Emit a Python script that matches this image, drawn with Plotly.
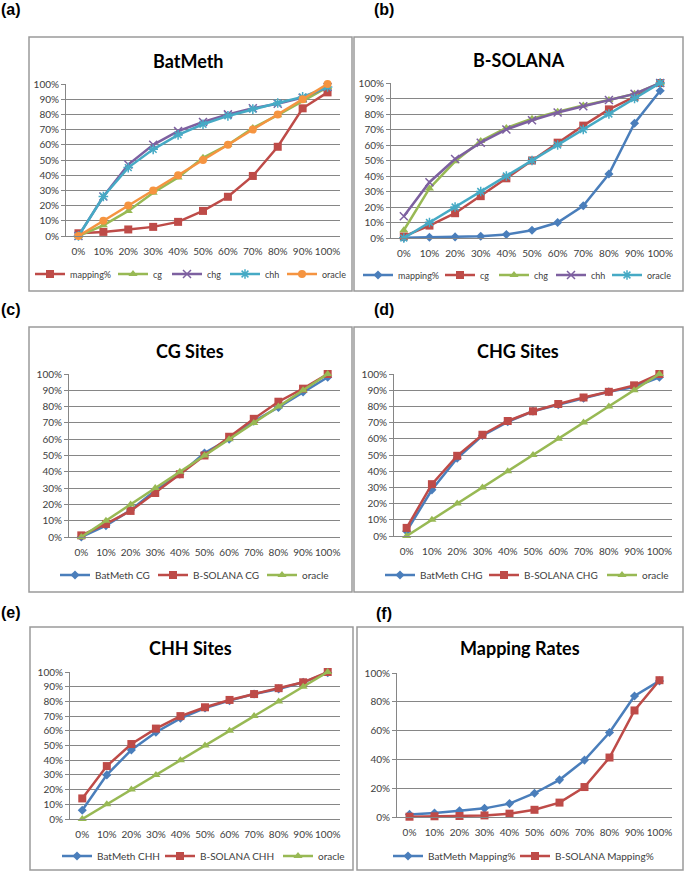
import plotly.graph_objects as go

W, H = 685, 872

cats = ["0%", "10%", "20%", "30%", "40%", "50%", "60%", "70%", "80%", "90%", "100%"]

# (a) BatMeth
bm_mapping = [1.8, 2.7, 4.3, 6.0, 9.3, 16.5, 25.8, 39.5, 58.7, 84.0, 94.5]
bm_cg = [0, 7, 16.5, 28.5, 38.5, 51.5, 60, 71, 79.5, 89, 98]
bm_chg = [3, 28.5, 48, 62, 70.5, 77, 81, 85, 89, 92, 98]
bm_chh = [6, 30, 47, 59, 68.5, 75.5, 80.5, 85, 88.5, 93, 99.5]
bm_a_chg = [0, 26, 47, 60, 69, 75, 80, 84, 87, 91, 98]
bm_a_chh = [0, 26, 45, 57, 66.5, 73.5, 79, 83.5, 87.5, 91.5, 98]
# (b) B-SOLANA
bs_mapping = [0.2, 0.5, 0.7, 1.1, 2.3, 5.0, 10.0, 20.8, 41.3, 74.0, 95.0]
bs_cg = [1, 8, 16, 27, 38.5, 50, 61.5, 72.5, 83, 91, 100]
bs_chg = [5, 32, 49.5, 62.5, 71, 77, 81.5, 85.5, 89, 93, 100]
bs_chh = [14, 36, 51, 61.5, 70, 76, 81, 85, 89, 93, 100]
oracle = [0, 10, 20, 30, 40, 50, 60, 70, 80, 90, 100]

titles = ["BatMeth", "B-SOLANA", "CG Sites", "CHG Sites", "CHH Sites", "Mapping Rates"]
labels = ["(a)", "(b)", "(c)", "(d)", "(e)", "(f)"]

BLUE, RED, GREEN, PURPLE, AQUA, ORANGE = "#4A7EBB", "#BE4B48", "#98B954", "#7D60A0", "#46AAC5", "#F59440"


def mk(kind, color):
    # marker style per kind
    if kind == "diamond":
        return dict(symbol="diamond", size=7, color=color)
    if kind == "square":
        return dict(symbol="square", size=8, color=color)
    if kind == "triangle":
        return dict(symbol="triangle-up", size=8, color=color)
    if kind == "x":
        return dict(symbol="x-thin-open", size=8, color=color, line=dict(color=color, width=1.5))
    if kind == "star":
        return dict(symbol="asterisk-open", size=8, color=color, line=dict(color=color, width=1.5))
    return dict(symbol="circle", size=8, color=color)


# panel series: (name, values, color, marker)
panels = [
    [("mapping%", bm_mapping, RED, "square"), ("cg", bm_cg, GREEN, "triangle"),
     ("chg", bm_a_chg, PURPLE, "x"), ("chh", bm_a_chh, AQUA, "star"),
     ("oracle", oracle, ORANGE, "circle")],
    [("mapping%", bs_mapping, BLUE, "diamond"), ("cg", bs_cg, RED, "square"),
     ("chg", bs_chg, GREEN, "triangle"), ("chh", bs_chh, PURPLE, "x"),
     ("oracle", oracle, AQUA, "star")],
    [("BatMeth CG", bm_cg, BLUE, "diamond"), ("B-SOLANA CG", bs_cg, RED, "square"),
     ("oracle", oracle, GREEN, "triangle")],
    [("BatMeth CHG", bm_chg, BLUE, "diamond"), ("B-SOLANA CHG", bs_chg, RED, "square"),
     ("oracle", oracle, GREEN, "triangle")],
    [("BatMeth CHH", bm_chh, BLUE, "diamond"), ("B-SOLANA CHH", bs_chh, RED, "square"),
     ("oracle", oracle, GREEN, "triangle")],
    [("BatMeth Mapping%", bm_mapping, BLUE, "diamond"), ("B-SOLANA Mapping%", bs_mapping, RED, "square")],
]

# geometry in pixels
plot_px = [(66, 340, 84, 236), (391, 673, 83, 238), (69, 340, 374, 537),
           (394, 672, 374, 536), (70, 340, 672, 819), (397, 672, 673, 817)]
box_px = [(29, 37, 352, 291), (354, 37, 683, 291), (29, 327, 352, 592),
          (354, 327, 683, 592), (30, 627, 353, 870), (357, 627, 683, 870)]
title_px = [(188, 61), (519, 60), (190, 351), (518, 351), (190, 648), (520, 648)]
label_px = [(11, 10), (384, 10), (11, 310), (384, 310), (11, 612), (384, 613)]
# one legend per entry: left x of each entry, and the row's centre y
legend_x = [[30, 113, 167, 225, 282], [358, 440, 494, 551, 607],
            [55, 153, 262], [380, 484, 602], [57, 160, 278], [388, 515]]
legend_y = [274, 275, 575, 575, 856, 856]
legend_size = [9, 9, 10, 10, 10, 10]

FONT = "Lato, Carlito, Calibri, sans-serif"

fig = go.Figure()
layout = dict(width=W, height=H, margin=dict(l=0, r=0, t=0, b=0, autoexpand=False),
              paper_bgcolor="white", plot_bgcolor="white", showlegend=True,
              font=dict(family=FONT, color="#404040"))
shapes, annotations = [], []

k = 0
for i, series in enumerate(panels):
    n = "" if i == 0 else str(i + 1)
    for j, (name, vals, color, kind) in enumerate(series):
        k += 1
        lg = "legend" if k == 1 else "legend" + str(k)
        fig.add_trace(go.Scatter(
            x=cats, y=vals, name=name, mode="lines+markers",
            line=dict(color=color, width=2.5), marker=mk(kind, color),
            cliponaxis=False, xaxis="x" + n, yaxis="y" + n, legend=lg))
        layout[lg] = dict(x=legend_x[i][j] / W, y=1 - legend_y[i] / H,
                          xanchor="left", yanchor="middle", orientation="h",
                          font=dict(size=legend_size[i], color="#404040"),
                          bgcolor="rgba(0,0,0,0)", itemwidth=30)

    x0, x1, yt, yb = plot_px[i]
    layout["xaxis" + n] = dict(
        domain=[x0 / W, x1 / W], anchor="y" + n, type="category",
        range=[-0.5, 10.5], showgrid=False, showline=True, linecolor="#868686",
        linewidth=1, ticks="", tickangle=0, ticklabelstandoff=6, automargin=False,
        tickfont=dict(size=10, color="#404040"), fixedrange=True)
    layout["yaxis" + n] = dict(
        domain=[1 - yb / H, 1 - yt / H], anchor="x" + n, range=[0, 100],
        dtick=20 if i == 5 else 10, ticksuffix="%", showgrid=True, gridcolor="#868686",
        gridwidth=1, zeroline=False, showline=True, linecolor="#868686", linewidth=1,
        ticks="outside", ticklen=4, tickcolor="#868686", automargin=False,
        tickfont=dict(size=10, color="#404040"), fixedrange=True)

    bx0, by0, bx1, by1 = box_px[i]
    shapes.append(dict(type="rect", xref="paper", yref="paper",
                       x0=bx0 / W, x1=bx1 / W, y0=1 - by1 / H, y1=1 - by0 / H,
                       line=dict(color="#9A9A9A", width=1.5)))

    tx, ty = title_px[i]
    annotations.append(dict(text=titles[i], x=tx / W, y=1 - ty / H, xref="paper", yref="paper",
                            showarrow=False, xanchor="center", yanchor="middle",
                            font=dict(family=FONT, size=18, color="#000000", weight="bold")))
    px_, py_ = label_px[i]
    annotations.append(dict(text="<b>" + labels[i] + "</b>", x=px_ / W, y=1 - py_ / H,
                            xref="paper", yref="paper", showarrow=False,
                            xanchor="center", yanchor="middle",
                            font=dict(family="Liberation Sans, Arial", size=16, color="#000000")))

layout["shapes"] = shapes
layout["annotations"] = annotations
fig.update_layout(**layout)

# page body has an 8px default margin; drop it so the figure sits at the window's corner
fig.write_html("out.html", config={"displayModeBar": False},
               post_script="document.body.style.margin = '0';")
